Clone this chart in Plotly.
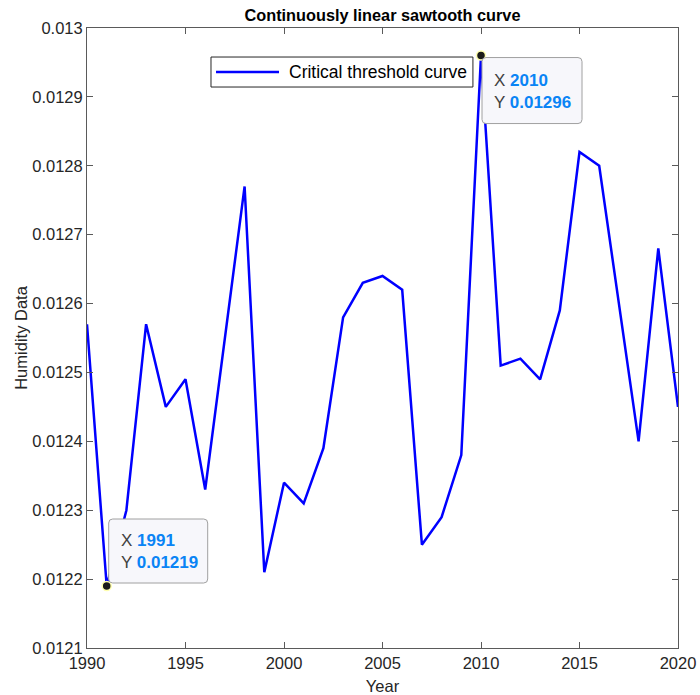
import plotly.graph_objects as go

years = list(range(1990, 2021))
humidity = [0.01257, 0.01219, 0.01230, 0.01257, 0.01245, 0.01249, 0.01233, 0.01255,
            0.01277, 0.01221, 0.01234, 0.01231, 0.01239, 0.01258, 0.01263, 0.01264,
            0.01262, 0.01225, 0.01229, 0.01238, 0.01296, 0.01251, 0.01252, 0.01249,
            0.01259, 0.01282, 0.01280, 0.01260, 0.01240, 0.01268, 0.01245]
tip_x = [1991, 2010]
tip_y = [0.01219, 0.01296]
tip_labels = ["1991", "2010"]
tip_values = ["0.01219", "0.01296"]
y_ticks = [0.0121, 0.0122, 0.0123, 0.0124, 0.0125, 0.0126, 0.0127, 0.0128, 0.0129, 0.013]
y_tick_text = ["0.0121", "0.0122", "0.0123", "0.0124", "0.0125", "0.0126", "0.0127", "0.0128", "0.0129", "0.013"]
x_ticks = [1990, 1995, 2000, 2005, 2010, 2015, 2020]
series_name = "Critical threshold curve"

FONT = "Liberation Sans, Arial, sans-serif"
BLUE = "#0000ff"


def rounded_rect(x0, y0, x1, y1, r=4):
    # pixel coords relative to anchor, y upward
    ylo, yhi = min(y0, y1), max(y0, y1)
    return (f"M{x0 + r},{ylo} L{x1 - r},{ylo} Q{x1},{ylo} {x1},{ylo + r} "
            f"L{x1},{yhi - r} Q{x1},{yhi} {x1 - r},{yhi} L{x0 + r},{yhi} "
            f"Q{x0},{yhi} {x0},{yhi - r} L{x0},{ylo + r} Q{x0},{ylo} {x0 + r},{ylo} Z")


fig = go.Figure()
fig.add_trace(go.Scatter(x=years, y=humidity, mode="lines", name=series_name,
                         line=dict(color=BLUE, width=2.5), showlegend=False))

# data tip boxes (box extents relative to point in px, text xshift, text yshift)
tip_boxes = [(2, 3, 101, 67), (1, -2, 101, -68)]
tip_xshift = [13, 12]
tip_yshift = [56, -14]
for xv, yv, lab, val, (bx0, by0, bx1, by1), xs, ys in zip(tip_x, tip_y, tip_labels, tip_values,
                                                        tip_boxes, tip_xshift, tip_yshift):
    fig.add_shape(type="path", xref="x", yref="y", xsizemode="pixel", ysizemode="pixel",
                  xanchor=xv, yanchor=yv, path=rounded_rect(bx0, by0, bx1, by1),
                  fillcolor="#f7f7fb", line=dict(color="#a0a0a0", width=1), layer="above")
    fig.add_annotation(x=xv, y=yv, xref="x", yref="y", xanchor="left", yanchor="top",
                       xshift=xs, yshift=ys, align="left", showarrow=False,
                       text=(f"X <b><span style='color:#0a84f5'>{lab}</span></b><br>"
                             f"Y <b><span style='color:#0a84f5'>{val}</span></b>"),
                       font=dict(family=FONT, size=17, color="#404040"), borderpad=0)

fig.add_trace(go.Scatter(x=tip_x, y=tip_y, mode="markers", showlegend=False,
                         marker=dict(color="#1a1a1a", size=9, line=dict(color="#ffffb0", width=1.5))))

# custom legend box
fig.add_shape(type="rect", xref="paper", yref="paper", x0=0.2098, x1=0.653, y0=0.9048, y1=0.9532,
              fillcolor="white", line=dict(color="#262626", width=1), layer="above")
fig.add_shape(type="line", xref="paper", yref="paper", x0=0.2183, x1=0.3249, y0=0.929, y1=0.929,
              line=dict(color=BLUE, width=2.5), layer="above")
fig.add_annotation(x=0.3384, y=0.929, xref="paper", yref="paper", xanchor="left", yanchor="middle",
                   showarrow=False, text=series_name,
                   font=dict(family=FONT, size=17.5, color="black"))

axis_common = dict(showline=True, linecolor="#5a5a5a", linewidth=1, mirror="ticks",
                   ticks="inside", ticklen=6, tickcolor="#5a5a5a", showgrid=False, zeroline=False,
                   automargin=False,
                   tickfont=dict(family=FONT, size=16.5, color="#262626"))

fig.update_layout(
    width=700, height=695,
    margin=dict(l=87, r=22, t=28, b=47),
    plot_bgcolor="white", paper_bgcolor="white",
    title=dict(text="<b>Continuously linear sawtooth curve</b>", x=0.5, xref="paper",
               y=1, yref="paper", yanchor="bottom", pad=dict(b=7),
               font=dict(family=FONT, size=16.3, color="black")),
    xaxis=dict(range=[1990, 2020], tickvals=x_ticks,
               title=dict(text="Year", font=dict(family=FONT, size=16.5, color="#262626"), standoff=10),
               **axis_common),
    yaxis=dict(range=[0.0121, 0.013], tickvals=y_ticks, ticktext=y_tick_text,
               title=dict(text="Humidity Data", font=dict(family=FONT, size=16.5, color="#262626"), standoff=0),
               **axis_common),
    showlegend=False,
)

fig.write_html("out.html")
